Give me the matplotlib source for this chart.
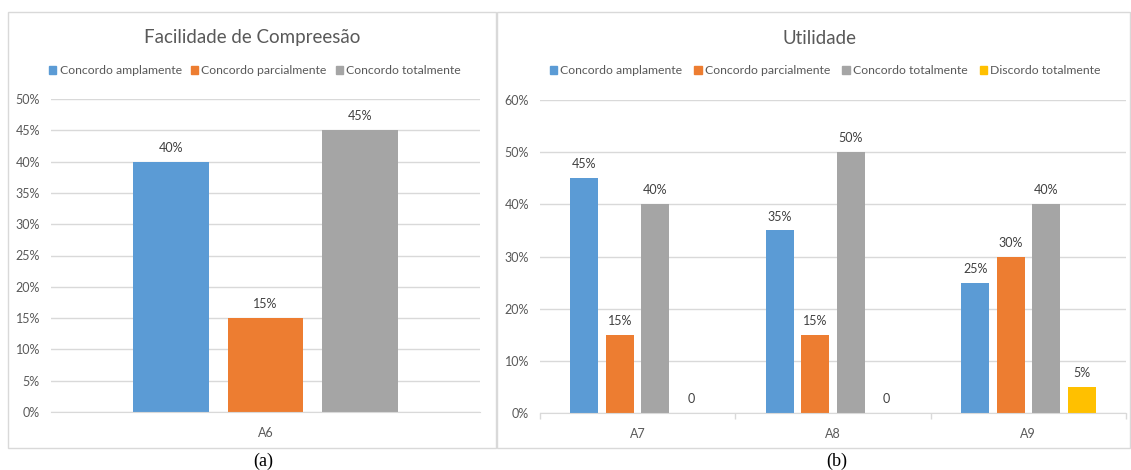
import matplotlib
matplotlib.use("Agg")
import matplotlib.pyplot as plt
from matplotlib.patches import Patch, Rectangle
import numpy as np

plt.rcParams['font.family'] = ['Lato', 'DejaVu Sans']

# ---- data ----
left_title = "Facilidade de Compreesão"
left_categories = ["A6"]
left_series = ["Concordo amplamente", "Concordo parcialmente", "Concordo totalmente"]
left_values = {
    "Concordo amplamente": [0.40],
    "Concordo parcialmente": [0.15],
    "Concordo totalmente": [0.45],
}
left_yticks = [0, 0.05, 0.10, 0.15, 0.20, 0.25, 0.30, 0.35, 0.40, 0.45, 0.50]

right_title = "Utilidade"
right_categories = ["A7", "A8", "A9"]
right_series = ["Concordo amplamente", "Concordo parcialmente", "Concordo totalmente", "Discordo totalmente"]
right_values = {
    "Concordo amplamente": [0.45, 0.35, 0.25],
    "Concordo parcialmente": [0.15, 0.15, 0.30],
    "Concordo totalmente": [0.40, 0.50, 0.40],
    "Discordo totalmente": [0.0, 0.0, 0.05],
}
right_yticks = [0, 0.10, 0.20, 0.30, 0.40, 0.50, 0.60]

captions = ["(a)", "(b)"]

colors = {
    "Concordo amplamente": "#5B9BD5",
    "Concordo parcialmente": "#ED7D31",
    "Concordo totalmente": "#A5A5A5",
    "Discordo totalmente": "#FFC000",
}

W, H = 1131, 470
fig = plt.figure(figsize=(W / 100, H / 100), dpi=100)

def fx(px):
    return px / W

def fy(py):
    return 1 - py / H

GRID = "#d9d9d9"
TICKC = "#595959"
LABC = "#404040"

# panel borders
for x0, x1 in [(8, 496), (497, 1130)]:
    fig.patches.append(Rectangle((fx(x0), fy(448)), fx(x1 - x0), (448 - 12) / H,
                                 transform=fig.transFigure, fill=False,
                                 edgecolor=GRID, linewidth=1.0, zorder=0))

def fmt(v):
    return "0" if v == 0 else f"{v*100:.0f}%"

def style_axes(ax, yticks):
    for s in ["left", "right", "top"]:
        ax.spines[s].set_visible(False)
    ax.spines["bottom"].set_color(GRID)
    ax.set_yticks(yticks)
    ax.set_yticklabels([f"{t*100:.0f}%" for t in yticks])
    ax.set_ylim(0, yticks[-1])
    ax.yaxis.grid(True, color=GRID, linewidth=1.0)
    ax.set_axisbelow(True)
    ax.tick_params(axis="y", length=0, pad=8, labelsize=9, labelcolor=TICKC)
    ax.tick_params(axis="x", which="major", length=0, pad=11, labelsize=9, labelcolor=TICKC)

# ---- left chart ----
axL = fig.add_axes([fx(51), fy(412), fx(480 - 51), (412 - 99) / H])
xL = np.arange(len(left_categories))
spL, wL = 0.22, 0.176
for i, s in enumerate(left_series):
    off = (i - (len(left_series) - 1) / 2) * spL
    bars = axL.bar(xL + off, left_values[s], width=wL, color=colors[s], zorder=2)
    for b, v in zip(bars, left_values[s]):
        axL.annotate(fmt(v), (b.get_x() + b.get_width() / 2, v), xytext=(0, 10),
                     textcoords="offset points", ha="center", va="center",
                     fontsize=9, color=LABC)
axL.set_xlim(-0.5, len(left_categories) - 0.5)
axL.set_xticks(xL)
axL.set_xticklabels(left_categories)
style_axes(axL, left_yticks)

fig.text(fx(252), fy(37), left_title, ha="center", va="center", fontsize=13.5, color=TICKC)
fig.legend(handles=[Patch(color=colors[s], label=s) for s in left_series],
           loc="center", bbox_to_anchor=(fx(255), fy(71)), ncol=3, frameon=False,
           fontsize=8.8, handlelength=0.6, handleheight=0.6, handletextpad=0.25,
           columnspacing=0.75, labelcolor=TICKC, borderpad=0)

# ---- right chart ----
axR = fig.add_axes([fx(540), fy(413), fx(1126 - 540), (413 - 100) / H])
xR = np.arange(len(right_categories))
spR, wR = 0.1816, 0.143
for i, s in enumerate(right_series):
    off = (i - (len(right_series) - 1) / 2) * spR
    bars = axR.bar(xR + off, right_values[s], width=wR, color=colors[s], zorder=2)
    for b, v in zip(bars, right_values[s]):
        axR.annotate(fmt(v), (b.get_x() + b.get_width() / 2, v), xytext=(0, 10),
                     textcoords="offset points", ha="center", va="center",
                     fontsize=9, color=LABC)
axR.set_xlim(-0.5, len(right_categories) - 0.5)
axR.set_xticks(xR)
axR.set_xticklabels(right_categories)
axR.set_xticks(np.arange(len(right_categories) + 1) - 0.5, minor=True)
style_axes(axR, right_yticks)
axR.tick_params(axis="x", which="minor", length=4, color=GRID, width=1.0, direction="out")

fig.text(fx(819), fy(39), right_title, ha="center", va="center", fontsize=13.5, color=TICKC)
fig.legend(handles=[Patch(color=colors[s], label=s) for s in right_series],
           loc="center", bbox_to_anchor=(fx(825), fy(71)), ncol=4, frameon=False,
           fontsize=8.8, handlelength=0.6, handleheight=0.6, handletextpad=0.25,
           columnspacing=1.0, labelcolor=TICKC, borderpad=0)

# captions
fig.text(fx(263), fy(461), captions[0], ha="center", va="center", fontsize=13,
         family=["Liberation Serif", "DejaVu Serif"], color="black")
fig.text(fx(837), fy(461), captions[1], ha="center", va="center", fontsize=13,
         family=["Liberation Serif", "DejaVu Serif"], color="black")

fig.savefig("out.png", dpi=100)
